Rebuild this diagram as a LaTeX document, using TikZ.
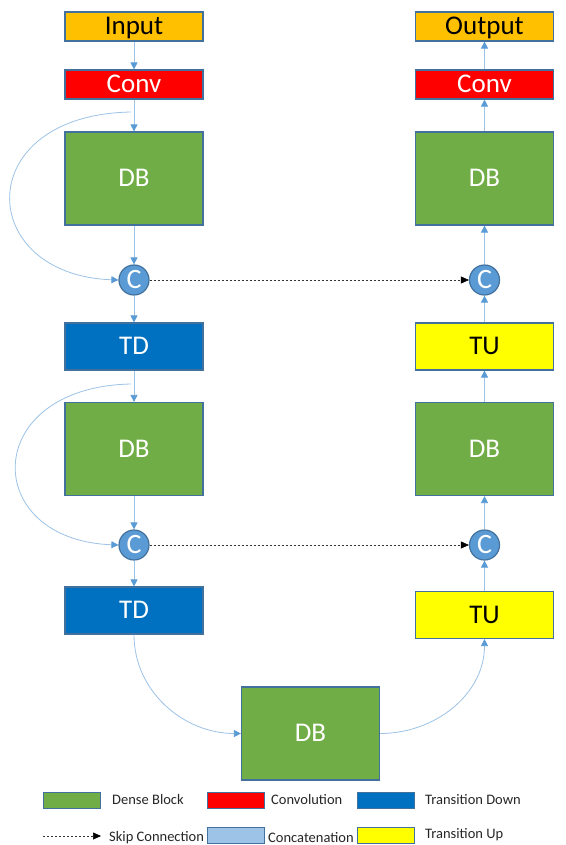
\documentclass[tikz,border=0pt]{standalone}
\usepackage{fontspec}
\setmainfont{Carlito}
\usetikzlibrary{arrows.meta,calc}
\definecolor{bordc}{HTML}{41719C}
\definecolor{inc}{HTML}{FFC000}
\definecolor{convc}{HTML}{FF0000}
\definecolor{dbc}{HTML}{70AD47}
\definecolor{tdc}{HTML}{0070C0}
\definecolor{tuc}{HTML}{FFFF00}
\definecolor{linec}{HTML}{9DC3E6}
\definecolor{tipc}{HTML}{5B9BD5}
\definecolor{catc}{HTML}{5B9BD5}
\definecolor{catlegc}{HTML}{9DC3E6}
\tikzset{
  box/.style={draw=bordc, line width=1.2pt, inner sep=0pt, text height=16pt, text depth=0pt, font=\fontsize{27}{27}\selectfont},
  iobox/.style={box, fill=inc, minimum width=138pt, minimum height=29pt, text=black},
  convbox/.style={box, fill=convc, minimum width=138pt, minimum height=29pt, text=white},
  dbbox/.style={box, fill=dbc, minimum width=138pt, minimum height=93pt, text=white},
  tdbox/.style={box, fill=tdc, minimum width=138pt, minimum height=47pt, text=white},
  tubox/.style={box, fill=tuc, minimum width=138pt, minimum height=47pt, text=black},
  cat/.style={circle, draw=bordc, line width=1.2pt, fill=catc, minimum size=30pt, inner sep=0pt, text=white, font=\fontsize{28}{28}\selectfont},
  flow/.style={draw=linec, line width=0.8pt, -{Triangle[length=7pt,width=7pt,color=tipc]}},
  skip/.style={draw=black!80, line width=0.6pt, dash pattern=on 2pt off 2pt, -{Triangle[length=8pt,width=7pt,color=black]}},
  swatch/.style={draw=bordc, line width=1pt, minimum width=57pt, minimum height=16pt, inner sep=0pt},
  leg/.style={anchor=west, inner sep=0pt, text=black!85, font=\fontsize{14.5}{14.5}\selectfont}
}
\begin{document}
\begin{tikzpicture}[x=1pt,y=-1pt]
\useasboundingbox[fill=white] (0,0) rectangle (565,845);
% left column
\node[iobox] (in) at (134,26.5) {Input};
\node[convbox] (convl) at (134,84.5) {Conv};
\node[dbbox] (db1) at (134,178.5) {DB};
\node[cat] (c1) at (134,280) {C};
\node[tdbox] (td1) at (134,346.5) {TD};
\node[dbbox] (db2) at (134,449) {DB};
\node[cat] (c2) at (134,545) {C};
\node[tdbox] (td2) at (134,610.5) {TD};
% bottom
\node[dbbox] (db3) at (310.5,733.5) {DB};
% right column
\node[iobox] (out) at (484.5,26.5) {Output};
\node[convbox] (convr) at (484.5,84.5) {Conv};
\node[dbbox] (db6) at (484.5,178.5) {DB};
\node[cat] (c4) at (484.5,280) {C};
\node[tubox] (tu2) at (484.5,346.5) {TU};
\node[dbbox] (db5) at (484.5,449) {DB};
\node[cat] (c3) at (484.5,545) {C};
\node[tubox] (tu1) at (484.5,615) {TU};
% vertical flows left
\draw[flow] (in) -- (convl);
\draw[flow] (convl) -- (db1);
\draw[flow] (db1) -- (c1);
\draw[flow] (c1) -- (td1);
\draw[flow] (td1) -- (db2);
\draw[flow] (db2) -- (c2);
\draw[flow] (c2) -- (td2);
% vertical flows right
\draw[flow] (tu1) -- (c3);
\draw[flow] (c3) -- (db5);
\draw[flow] (db5) -- (tu2);
\draw[flow] (tu2) -- (c4);
\draw[flow] (c4) -- (db6);
\draw[flow] (db6) -- (convr);
\draw[flow] (convr) -- (out);
% loop-back curves
\coordinate (s1) at (131,112);
\coordinate (s2) at (131,384);
\draw[flow] (s1) .. controls (-30,115) and (-25,275) .. (c1.west);
\draw[flow] (s2) .. controls (-20,387) and (-20,540) .. (c2.west);
% bottom curves
\draw[flow] (td2.south) to[out=-90,in=180] (db3.west);
\draw[flow] (db3.east) to[out=0,in=-90] (tu1.south);
% skip connections
\draw[skip] (c1.east) -- (c4.west);
\draw[skip] (c2.east) -- (c3.west);
% legend
\node[swatch, fill=dbc] (l1) at (71.5,800) {};
\node[leg] (l1t) at (112,800) {Dense Block};
\node[swatch, fill=convc] (l2) at (235.5,800) {};
\node[leg] (l2t) at (271,800) {Convolution};
\node[swatch, fill=tdc] (l3) at (386,800) {};
\node[leg] (l3t) at (425,800) {Transition Down};
\coordinate (k1) at (43,836);
\coordinate (k2) at (101,836);
\draw[skip] (k1) -- (k2);
\node[leg] (l4t) at (109,838) {Skip Connection};
\node[swatch, fill=catlegc] (l5) at (235.5,835) {};
\node[leg] (l5t) at (268,838) {Concatenation};
\node[swatch, fill=tuc] (l6) at (386,835) {};
\node[leg] (l6t) at (425,835) {Transition Up};
\end{tikzpicture}
\end{document}
